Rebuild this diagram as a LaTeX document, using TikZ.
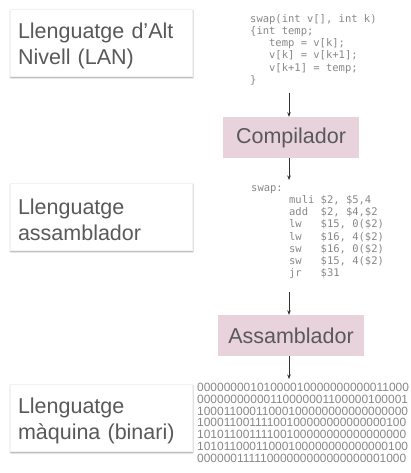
\documentclass[tikz,border=0pt]{standalone}
\usepackage{fontspec}
\setmainfont{Liberation Sans}
\newfontfamily\codefont{DejaVu Sans Mono}
\newfontfamily\binfont{Liberation Sans}
\usetikzlibrary{shadows.blur,arrows.meta}
\definecolor{labelgray}{RGB}{89,89,89}
\definecolor{codegray}{RGB}{135,135,135}
\definecolor{pinkbox}{RGB}{232,210,220}
\definecolor{arrowgray}{RGB}{50,50,50}
\newcommand\toppad{\rule{0pt}{21.5pt}}
\tikzset{
  leftbox/.style={draw=black!5, fill=white, text=labelgray,
    font=\fontsize{21.5}{26}\selectfont, align=left,
    text width=166pt, inner xsep=8pt, inner ysep=0pt, minimum height=67pt,
    blur shadow={shadow xshift=0.8pt, shadow yshift=-1.6pt, shadow blur radius=1.6pt, shadow opacity=45}},
  pinkstep/.style={fill=pinkbox, text=labelgray,
    font=\fontsize{21.5}{26}\selectfont, inner sep=0pt, minimum height=41pt},
  codeblock/.style={text=codegray, font=\codefont\fontsize{10.5}{12.25}\selectfont,
    align=left, inner sep=0pt, anchor=north west},
  binblock/.style={text=codegray, font=\binfont\fontsize{11.95}{11.8}\selectfont,
    align=left, inner sep=0pt, anchor=north west},
  flow/.style={draw=arrowgray, line width=0.6pt, -{Stealth[length=4.5pt,width=3.5pt]}}
}
\begin{document}
\begin{tikzpicture}[x=1pt,y=1pt]
\useasboundingbox (0,0) rectangle (410,-473);
% left labels
\node[leftbox] (lan) at (101,-42.5) {\toppad Llenguatge d’Alt\\Nivell (LAN)};
\node[leftbox] (asm) at (101,-216.5) {\toppad Llenguatge\\assamblador};
\node[leftbox] (maq) at (101,-417.5) {\toppad Llenguatge\\màquina (binari)};
% process boxes
\node[pinkstep, minimum width=136pt] (comp) at (291,-137.5) {Compilador};
\node[pinkstep, minimum width=146pt] (assem) at (291,-335.5) {Assamblador};
% code blocks
\node[codeblock] (csrc) at (250,-14) {swap(int\ v[],\ int\ k)\\
\{int\ temp;\\
\ \ \ temp\ =\ v[k];\\
\ \ \ v[k]\ =\ v[k+1];\\
\ \ \ v[k+1]\ =\ temp;\\
\}};
\node[codeblock] (asrc) at (251,-185) {swap:\\
\ \ \ \ \ \ muli\ \$2,\ \$5,4\\
\ \ \ \ \ \ add\ \ \$2,\ \$4,\$2\\
\ \ \ \ \ \ lw\ \ \ \$15,\ 0(\$2)\\
\ \ \ \ \ \ lw\ \ \ \$16,\ 4(\$2)\\
\ \ \ \ \ \ sw\ \ \ \$16,\ 0(\$2)\\
\ \ \ \ \ \ sw\ \ \ \$15,\ 4(\$2)\\
\ \ \ \ \ \ jr\ \ \ \$31};
\node[binblock] (bin) at (197,-383) {00000000101000010000000000011000\\
00000000000110000001100000100001\\
10001100011000100000000000000000\\
10001100111100100000000000000100\\
10101100111100100000000000000000\\
10101100011000100000000000000100\\
00000011111000000000000000001000};
% arrows
\coordinate (a1) at (289,-93);
\coordinate (a2) at (289,-180);
\coordinate (a3) at (289,-292);
\coordinate (a4) at (289,-379);
\draw[flow] (a1) -- (a1 |- comp.north);
\draw[flow] (a1 |- comp.south) -- (a2);
\draw[flow] (a3) -- (a3 |- assem.north);
\draw[flow] (a3 |- assem.south) -- (a4);
\end{tikzpicture}
\end{document}
